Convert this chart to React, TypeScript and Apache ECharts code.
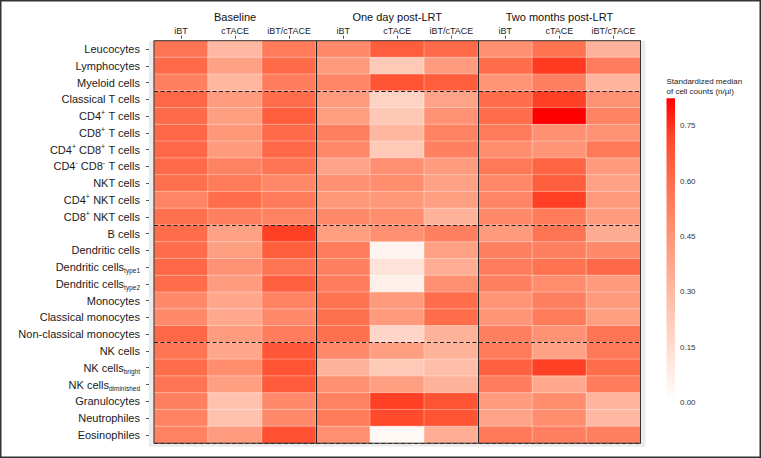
import React, { useEffect, useRef } from "react";
import * as echarts from "echarts";

// Time points and treatment arms (columns of the heatmap)
const timePoints = ["Baseline", "One day post-LRT", "Two months post-LRT"];
const treatments = ["iBT", "cTACE", "iBT/cTACE"];

// Cell populations (rows). "+"/"-" after a marker is a superscript, "_x" a subscript.
const cellTypes = [
  "Leucocytes",
  "Lymphocytes",
  "Myeloid cells",
  "Classical T cells",
  "CD4+ T cells",
  "CD8+ T cells",
  "CD4+ CD8+ T cells",
  "CD4- CD8- T cells",
  "NKT cells",
  "CD4+ NKT cells",
  "CD8+ NKT cells",
  "B cells",
  "Dendritic cells",
  "Dendritic cells_type1",
  "Dendritic cells_type2",
  "Monocytes",
  "Classical monocytes",
  "Non-classical monocytes",
  "NK cells",
  "NK cells_bright",
  "NK cells_diminished",
  "Granulocytes",
  "Neutrophiles",
  "Eosinophiles",
];

// Standardized median cell counts, one array per time point / treatment arm
const baselineIBT = [0.57, 0.61, 0.53, 0.62, 0.61, 0.62, 0.62, 0.61, 0.59, 0.51, 0.59, 0.60, 0.60, 0.62, 0.60, 0.49, 0.49, 0.62, 0.57, 0.60, 0.57, 0.53, 0.52, 0.52];
const baselineCTACE = [0.30, 0.40, 0.31, 0.42, 0.41, 0.44, 0.43, 0.52, 0.55, 0.60, 0.53, 0.40, 0.41, 0.46, 0.42, 0.38, 0.37, 0.42, 0.38, 0.48, 0.41, 0.26, 0.26, 0.42];
const baselineCombo = [0.55, 0.61, 0.54, 0.60, 0.65, 0.61, 0.62, 0.57, 0.50, 0.55, 0.52, 0.73, 0.65, 0.57, 0.64, 0.52, 0.49, 0.54, 0.67, 0.68, 0.66, 0.49, 0.49, 0.69];
const dayOneIBT = [0.49, 0.43, 0.51, 0.42, 0.41, 0.53, 0.50, 0.39, 0.47, 0.44, 0.49, 0.41, 0.54, 0.53, 0.54, 0.58, 0.59, 0.59, 0.49, 0.33, 0.47, 0.52, 0.55, 0.47];
const dayOneCTACE = [0.65, 0.23, 0.68, 0.19, 0.24, 0.31, 0.23, 0.47, 0.48, 0.44, 0.48, 0.47, 0.05, 0.12, 0.07, 0.43, 0.43, 0.18, 0.41, 0.23, 0.41, 0.73, 0.71, 0.03];
const dayOneCombo = [0.61, 0.42, 0.65, 0.39, 0.46, 0.52, 0.53, 0.42, 0.40, 0.41, 0.33, 0.53, 0.40, 0.35, 0.47, 0.60, 0.60, 0.33, 0.33, 0.28, 0.33, 0.68, 0.68, 0.35];
const twoMonthsIBT = [0.47, 0.60, 0.45, 0.60, 0.60, 0.55, 0.48, 0.56, 0.50, 0.51, 0.49, 0.43, 0.53, 0.54, 0.53, 0.45, 0.45, 0.53, 0.55, 0.64, 0.54, 0.42, 0.39, 0.56];
const twoMonthsCTACE = [0.58, 0.74, 0.53, 0.73, 0.825, 0.47, 0.45, 0.63, 0.65, 0.73, 0.55, 0.57, 0.53, 0.58, 0.48, 0.53, 0.55, 0.46, 0.40, 0.73, 0.37, 0.48, 0.48, 0.53];
const twoMonthsCombo = [0.33, 0.54, 0.32, 0.46, 0.52, 0.46, 0.56, 0.43, 0.40, 0.43, 0.42, 0.36, 0.49, 0.62, 0.43, 0.43, 0.41, 0.57, 0.56, 0.60, 0.55, 0.32, 0.30, 0.53];

const columnsData = [
  baselineIBT, baselineCTACE, baselineCombo,
  dayOneIBT, dayOneCTACE, dayOneCombo,
  twoMonthsIBT, twoMonthsCTACE, twoMonthsCombo,
];

// Colour bar ticks
const scaleMax = 0.825;
const scaleStep = 0.15;

// White -> red ramp (interpolated in Lab space)
const ramp = ["#FFFFFF", "#FFE7DE", "#FFCFBF", "#FFB7A0", "#FF9E81", "#FF8464", "#FF6846", "#FF4628", "#FF0000"];

const FONT = "'Liberation Sans', Arial, Helvetica, sans-serif";

function richLabel(name: string): string {
  const [main, sub] = name.split("_");
  let out = "";
  main.split(/([+-])(?=\s|$)/).forEach((part) => {
    if (part === "+" || part === "-") out += `{sup|${part}}`;
    else if (part.length) out += `{n|${part}}`;
  });
  if (sub) out += `{sub|${sub}}`;
  return out;
}

export default function App() {
  const ref = useRef<HTMLDivElement>(null);

  useEffect(() => {
    if (!ref.current) return;
    const chart = echarts.init(ref.current, undefined, { renderer: "svg" });

    const xCategories = timePoints.flatMap(() => treatments);
    const cells: number[][] = [];
    columnsData.forEach((col, x) => col.forEach((v, y) => cells.push([x, y, v])));

    const gridLeft = 154;
    const gridTop = 40.7;
    const gridWidth = 486.5;
    const gridHeight = 402.5;

    // colour bar box
    const barLeft = 666.5;
    const barTop = 98.3;
    const barWidth = 8.5;
    const barHeight = 304;

    const barStops = ramp.map((c, i) => ({ offset: i / (ramp.length - 1), color: ramp[ramp.length - 1 - i] }));

    chart.setOption({
      animation: false,
      textStyle: { fontFamily: FONT },
      title: {
        text: "Standardized median\nof cell counts (n/µl)",
        left: barLeft,
        top: 77,
        padding: 0,
        textStyle: { fontSize: 8, fontWeight: "normal", color: "#222", lineHeight: 9.5, fontFamily: FONT },
      },
      graphic: [
        {
          type: "rect",
          z: -10,
          silent: true,
          shape: { x: gridLeft - 5, y: gridTop, width: gridWidth + 10, height: gridHeight + 3.5 },
          style: { fill: "#EBEBEB" },
        },
        {
          type: "rect",
          silent: true,
          shape: { x: barLeft, y: barTop, width: barWidth, height: barHeight },
          style: { fill: new echarts.graphic.LinearGradient(0, 0, 0, 1, barStops) },
        },
        {
          type: "rect",
          z: 100,
          silent: true,
          shape: { x: 0.75, y: 0.75, width: 759.5, height: 456.5 },
          style: { fill: "none", stroke: "#333", lineWidth: 1.5 },
        },
      ],
      grid: [
        {
          left: gridLeft,
          top: gridTop,
          width: gridWidth,
          height: gridHeight,
          show: true,
          z: 10,
          backgroundColor: "transparent",
          borderColor: "#333",
          borderWidth: 1,
        },
        { left: barLeft, top: barTop, width: barWidth, height: barHeight, show: false },
      ],
      xAxis: [
        {
          type: "category",
          gridIndex: 0,
          position: "top",
          data: xCategories,
          offset: 2,
          z: 5,
          axisLine: { show: false },
          axisTick: { show: true, alignWithLabel: true, length: 3, lineStyle: { color: "#555" } },
          axisLabel: { fontSize: 9, color: "#222", margin: 3, interval: 0, fontFamily: FONT },
          splitLine: {
            show: true,
            interval: (i: number) => i === 3 || i === 6,
            lineStyle: { color: "#222", width: 1 },
          },
        },
        {
          type: "category",
          gridIndex: 0,
          position: "top",
          data: timePoints,
          offset: 2,
          axisLine: { show: false },
          axisTick: { show: false },
          splitLine: { show: false },
          axisLabel: { fontSize: 11, color: "#111", margin: 16, interval: 0, fontFamily: FONT },
        },
        { type: "value", gridIndex: 1, show: false, min: 0, max: 1 },
      ],
      yAxis: [
        {
          type: "category",
          gridIndex: 0,
          inverse: true,
          data: cellTypes,
          offset: 5,
          z: 5,
          axisLine: { show: false },
          axisTick: { show: true, alignWithLabel: true, length: 3, lineStyle: { color: "#555" } },
          axisLabel: {
            interval: 0,
            margin: 9,
            formatter: (v: string) => richLabel(v),
            rich: {
              n: { fontSize: 11, color: "#1a1a1a", lineHeight: 14, fontFamily: FONT },
              sup: { fontSize: 7, color: "#1a1a1a", lineHeight: 8, verticalAlign: "top", fontFamily: FONT },
              sub: { fontSize: 6.5, color: "#1a1a1a", lineHeight: 6, verticalAlign: "bottom", fontFamily: FONT },
            },
          },
          splitLine: {
            show: true,
            interval: (i: number) => i === 3 || i === 11 || i === 18,
            lineStyle: { color: "#222", width: 1, type: [4, 2.5] },
          },
        },
        {
          type: "value",
          gridIndex: 1,
          position: "right",
          min: 0,
          max: scaleMax,
          interval: scaleStep,
          axisLine: { show: false },
          axisTick: { show: false },
          splitLine: { show: false },
          axisLabel: {
            fontSize: 8,
            color: "#333",
            margin: 5,
            showMaxLabel: false,
            formatter: (v: number) => v.toFixed(2),
            fontFamily: FONT,
          },
        },
      ],
      visualMap: {
        type: "continuous",
        show: false,
        seriesIndex: 0,
        min: 0,
        max: scaleMax,
        inRange: { color: ramp },
      },
      series: [
        {
          type: "heatmap",
          xAxisIndex: 0,
          yAxisIndex: 0,
          data: cells,
          itemStyle: { borderColor: "rgba(255,255,255,0.55)", borderWidth: 0.6 },
          emphasis: { disabled: true },
        },
      ],
    });

    return () => chart.dispose();
  }, []);

  return (
    <div
      ref={ref}
      style={{ position: "fixed", left: 0, top: 0, width: 761, height: 458, background: "#fff" }}
    />
  );
}
